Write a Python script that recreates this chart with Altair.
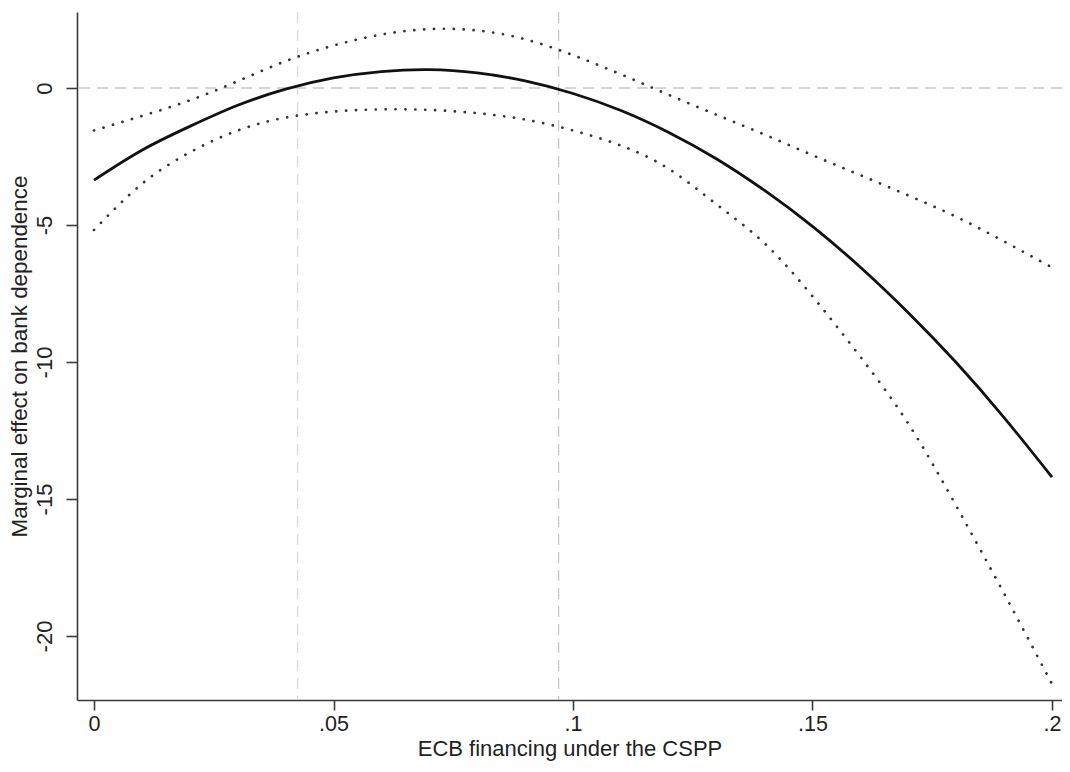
import altair as alt
import pandas as pd

# ---- data ----
x_vals = [0.00, 0.01, 0.02, 0.03, 0.04, 0.05, 0.06, 0.07, 0.08, 0.09, 0.10,
          0.11, 0.12, 0.13, 0.14, 0.15, 0.16, 0.17, 0.18, 0.19, 0.20]
effect = [-3.36, -2.27, -1.40, -0.63, -0.04, 0.37, 0.60, 0.67, 0.55, 0.26, -0.20,
          -0.82, -1.62, -2.59, -3.74, -5.05, -6.54, -8.20, -10.02, -12.03, -14.20]
upper = [-1.55, -1.02, -0.45, 0.25, 0.98, 1.55, 1.95, 2.15, 2.10, 1.78, 1.20,
         0.50, -0.25, -0.98, -1.70, -2.45, -3.18, -3.92, -4.70, -5.60, -6.55]
lower = [-5.18, -3.50, -2.35, -1.55, -1.08, -0.86, -0.78, -0.80, -0.92, -1.15, -1.55,
         -2.10, -2.95, -4.25, -5.67, -7.60, -9.81, -12.25, -15.25, -18.45, -21.75]
vlines = [0.0425, 0.097]
hline = [0]

x_ticks = [0, 0.05, 0.1, 0.15, 0.2]
x_tick_labels = ["0", ".05", ".1", ".15", ".2"]
y_ticks = [-20, -15, -10, -5, 0]
y_tick_labels = ["-20", "-15", "-10", "-5", "0"]

FONT = "Liberation Sans"

def label_expr(vals, labels):
    expr = "''"
    for v, l in zip(reversed(vals), reversed(labels)):
        expr = f"abs(datum.value - ({v})) < 1e-9 ? '{l}' : ({expr})"
    return expr

df = pd.DataFrame({"x": x_vals, "effect": effect, "upper": upper, "lower": lower})
dfv = pd.DataFrame({"x": vlines, "c": ["a", "b"]})
dfh = pd.DataFrame({"y": hline})

xscale = alt.Scale(domain=[-0.00355, 0.20209], nice=False, zero=False)
yscale = alt.Scale(domain=[-22.336, 2.774], nice=False, zero=False)

xaxis = alt.Axis(values=x_ticks, labelExpr=label_expr(x_ticks, x_tick_labels),
                 title="ECB financing under the CSPP", grid=False,
                 tickSize=10, labelPadding=3, titlePadding=3.5,
                 labelFontSize=21.5, titleFontSize=22)
yaxis = alt.Axis(values=y_ticks, labelExpr=label_expr(y_ticks, y_tick_labels),
                 title="Marginal effect on bank dependence", grid=False,
                 tickSize=11, labelPadding=10, labelAngle=270,
                 labelAlign="center", labelBaseline="bottom", titlePadding=2,
                 labelFontSize=22, titleFontSize=22.4)

base = alt.Chart(df)

hrule = alt.Chart(dfh).mark_rule(color="#c8c8c8", strokeWidth=1.3,
                                 strokeDash=[11, 7]).encode(
    y=alt.Y("y:Q", scale=yscale, axis=yaxis))

vrule = alt.Chart(dfv).mark_rule(strokeWidth=1.3, strokeDash=[11, 7]).encode(
    x=alt.X("x:Q", scale=xscale, axis=xaxis),
    color=alt.Color("c:N", scale=alt.Scale(domain=["a", "b"], range=["#d9d9d9", "#c8c8c8"]),
                    legend=None))

dot_style = dict(color="#333333", strokeWidth=2.7, strokeDash=[0.1, 9.8],
                 strokeCap="round", interpolate="natural")

up_line = base.mark_line(**dot_style).encode(
    x=alt.X("x:Q", scale=xscale, axis=xaxis),
    y=alt.Y("upper:Q", scale=yscale, axis=yaxis))

lo_line = base.mark_line(**dot_style).encode(
    x=alt.X("x:Q", scale=xscale, axis=xaxis),
    y=alt.Y("lower:Q", scale=yscale, axis=yaxis))

mid_line = base.mark_line(color="#111111", strokeWidth=2.8, interpolate="natural").encode(
    x=alt.X("x:Q", scale=xscale, axis=xaxis),
    y=alt.Y("effect:Q", scale=yscale, axis=yaxis))

chart = alt.layer(hrule, vrule, up_line, lo_line, mid_line).properties(
    width=985, height=688,
    autosize=alt.AutoSizeParams(type="none"),
    padding={"left": 69, "top": 4, "right": 0, "bottom": 62},
    background="white",
).configure_view(stroke=None).configure_axis(
    domainColor="#3a3a3a", domainWidth=1.6, tickColor="#3a3a3a", tickWidth=1.6,
    labelFont=FONT, labelColor="#222222",
    titleFont=FONT, titleFontWeight="normal", titleColor="#222222",
)

chart.save("out.html", embed_options={"renderer": "svg", "actions": False})
